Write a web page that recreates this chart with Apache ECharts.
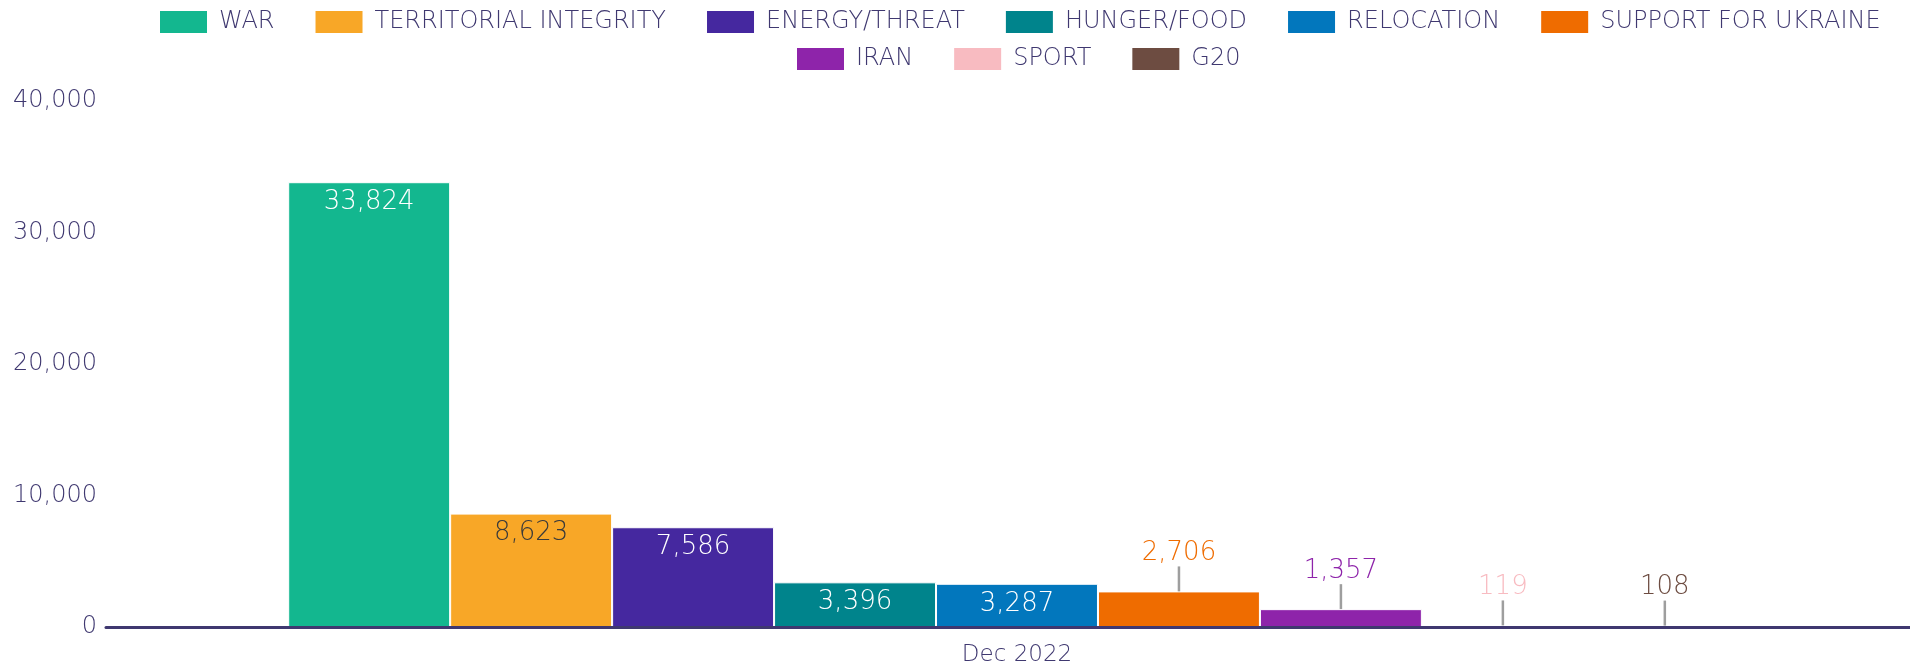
<!DOCTYPE html>
<html>
<head>
<meta charset="utf-8">
<script src="https://cdn.jsdelivr.net/npm/echarts@6/dist/echarts.min.js"></script>
<style>
html,body{margin:0;padding:0;background:#fff;overflow:hidden;width:1910px;height:668px;}
#chart{width:1928px;height:668px;}
</style>
</head>
<body>
<div id="chart"></div>
<script>
// ---- data ----
const categories = ['Dec 2022'];
const seriesNames = ['WAR','TERRITORIAL INTEGRITY','ENERGY/THREAT','HUNGER/FOOD','RELOCATION','SUPPORT FOR UKRAINE','IRAN','SPORT','G20'];
const seriesValues = [33824, 8623, 7586, 3396, 3287, 2706, 1357, 119, 108];
const yTicks = [0, 10000, 20000, 30000, 40000];

// ---- styles ----
const seriesColors = ['#13b78f','#f8a727','#45289f','#00848c','#0277bd','#ef6c00','#8e24aa','#f8bbc1','#6d4c41'];
const insideLabelColors = ['#ffffff','#3a3a3a','#ffffff','#ffffff','#ffffff'];
const FONT = "'DejaVu Sans', sans-serif";
const TEXT = '#3f3870';

const fmt = v => Number(v).toLocaleString('en-US');

const series = seriesNames.map((name, i) => {
  const inside = i < 5;
  const s = {
    name, type: 'bar',
    data: [seriesValues[i]],
    barGap: '0%', barCategoryGap: '20%',
    itemStyle: { color: seriesColors[i], borderColor: '#ffffff', borderWidth: 1 },
    label: {
      show: true,
      position: inside ? 'insideTop' : 'top',
      distance: inside ? 7 : 5,
      formatter: p => fmt(p.value),
      fontFamily: FONT, fontWeight: 300, fontSize: 26,
      color: inside ? insideLabelColors[i] : seriesColors[i]
    }
  };
  if (!inside) {
    s.labelLayout = { dy: -20 };
    s.labelLine = { show: true, lineStyle: { color: '#9e9e9e', width: 2.5 } };
  }
  return s;
});

// legend placement (two centred rows)
const LFS = 24, IW = 49, IH = 24, GAP = 39, TPAD = 6;
const ctx = document.createElement('canvas').getContext('2d');
ctx.font = `300 ${LFS}px ${FONT}`;
function rowWidth(names){
  let w = 0;
  names.forEach((n, k) => { w += IW + 5 + TPAD + ctx.measureText(n).width + (k ? GAP : 0); });
  return w;
}
const row1 = seriesNames.slice(0, 6), row2 = seriesNames.slice(6);
const CENTER = 1016;
function legend(names, top){
  return {
    data: names, top, left: Math.round(CENTER - rowWidth(names) / 2),
    orient: 'horizontal', itemWidth: IW, itemHeight: IH, itemGap: GAP,
    icon: 'rect', padding: 0,
    textStyle: { color: TEXT, fontFamily: FONT, fontWeight: 300, fontSize: LFS, padding: [0, 0, 0, TPAD] }
  };
}

const chart = echarts.init(document.getElementById('chart'), null, { renderer: 'canvas' });
chart.setOption({
  animation: false,
  legend: [legend(row1, 9), legend(row2, 46)],
  grid: { left: 106, right: 0, top: 101, bottom: 41, containLabel: false },
  xAxis: {
    type: 'category', data: categories, z: 5,
    axisLine: { lineStyle: { color: TEXT, width: 3 } },
    axisTick: { show: false },
    axisLabel: { color: TEXT, fontFamily: FONT, fontWeight: 300, fontSize: 23, margin: 17 }
  },
  yAxis: {
    type: 'value', min: yTicks[0], max: yTicks[yTicks.length - 1], interval: yTicks[1] - yTicks[0],
    splitLine: { show: false },
    axisLine: { show: false }, axisTick: { show: false },
    axisLabel: { color: TEXT, fontFamily: FONT, fontWeight: 300, fontSize: 24, margin: 9, formatter: v => fmt(v) }
  },
  series
});
</script>
</body>
</html>
